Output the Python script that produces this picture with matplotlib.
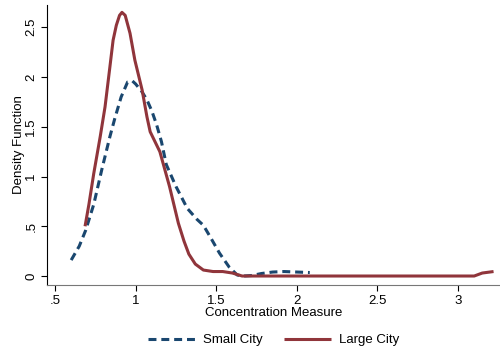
import numpy as np
import matplotlib
matplotlib.use('Agg')
import matplotlib.pyplot as plt

plt.rcParams['font.family'] = ['Liberation Sans', 'DejaVu Sans']

# Kernel density estimates
small_x = [0.60, 0.65, 0.69, 0.74, 0.79, 0.84, 0.87, 0.91, 0.95, 0.98, 1.00,
           1.04, 1.07, 1.10, 1.13, 1.16, 1.19, 1.25, 1.32, 1.38, 1.42, 1.46,
           1.52, 1.58, 1.63, 1.67, 1.72, 1.78, 1.85, 1.92, 2.00, 2.08]
small_y = [0.16, 0.30, 0.46, 0.72, 1.07, 1.40, 1.58, 1.80, 1.95, 1.96, 1.93,
           1.85, 1.77, 1.66, 1.52, 1.35, 1.12, 0.90, 0.68, 0.57, 0.51, 0.40,
           0.23, 0.09, 0.01, 0.00, 0.005, 0.025, 0.04, 0.045, 0.04, 0.035]

large_x = [0.686, 0.71, 0.74, 0.78, 0.81, 0.84, 0.86, 0.88, 0.90, 0.915, 0.935,
           0.965, 0.995, 1.04, 1.07, 1.09, 1.15, 1.21, 1.265, 1.30, 1.33, 1.37,
           1.42, 1.48, 1.54, 1.60, 1.66, 2.0, 2.5, 3.10, 3.15, 3.22]
large_y = [0.50, 0.72, 1.03, 1.40, 1.70, 2.10, 2.37, 2.52, 2.62, 2.65, 2.62,
           2.44, 2.17, 1.87, 1.60, 1.45, 1.25, 0.90, 0.53, 0.35, 0.22, 0.12,
           0.06, 0.045, 0.045, 0.03, 0.0, 0.0, 0.0, 0.0, 0.03, 0.045]

xticks = [0.5, 1, 1.5, 2, 2.5, 3]
xlabels = ['.5', '1', '1.5', '2', '2.5', '3']
yticks = [0, 0.5, 1, 1.5, 2, 2.5]
ylabels = ['0', '.5', '1', '1.5', '2', '2.5']

fig = plt.figure(figsize=(5, 3.58), dpi=100)
ax = fig.add_axes([0.094, 0.204, 0.906, 0.782])

l1, = ax.plot(small_x, small_y, color='#1a476f', lw=2.2, linestyle=(0, (2.6, 1.6)),
              label='Small City')
l2, = ax.plot(large_x, large_y, color='#90353b', lw=2.2, label='Large City',
              solid_capstyle='butt', solid_joinstyle='round')

ax.set_xlim(0.45, 3.26)
ax.set_ylim(-0.09, 2.724)

ax.set_xticks(xticks)
ax.set_xticklabels(xlabels)
ax.set_yticks(yticks)
ax.set_yticklabels(ylabels, rotation=90, va='center')

ax.spines['top'].set_visible(False)
ax.spines['right'].set_visible(False)
ax.spines['bottom'].set_color('#777777')
ax.spines['left'].set_color('black')
ax.tick_params(axis='both', labelsize=9.5, length=4, width=0.8, colors='black')
ax.tick_params(axis='x', pad=3)
ax.tick_params(axis='y', pad=3)

ax.set_xlabel('Concentration Measure', fontsize=9.5, labelpad=0)
ax.set_ylabel('Density Function', fontsize=9.5, labelpad=0)

fig.legend(handles=[l1, l2], loc='center', bbox_to_anchor=(0.547, 0.05),
           ncol=2, frameon=False, fontsize=9.5, handlelength=3.6,
           columnspacing=1.6, handletextpad=0.6)

fig.savefig('out.png', dpi=100)
